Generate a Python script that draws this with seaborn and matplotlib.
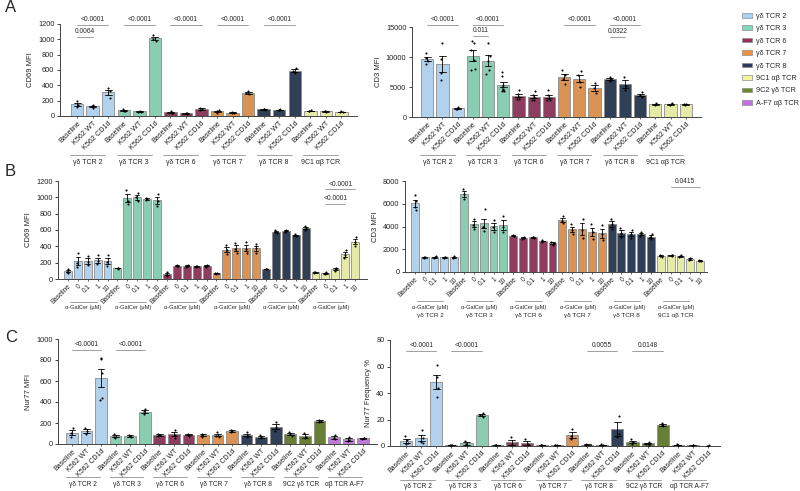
import numpy as np
import pandas as pd
import matplotlib
matplotlib.use("Agg")
import matplotlib.pyplot as plt
import matplotlib.transforms as mtransforms
from matplotlib.patches import Patch
import seaborn as sns

sns.set_theme(style="ticks")
plt.rcParams["font.family"] = ["Liberation Sans", "DejaVu Sans"]
plt.rcParams["axes.linewidth"] = 0.7
np.random.seed(0)

# ---- data (replicate values) ----
groups_a = ["γδ TCR 2", "γδ TCR 3", "γδ TCR 6", "γδ TCR 7", "γδ TCR 8", "9C1 αβ TCR"]
groups_c = ["γδ TCR 2", "γδ TCR 3", "γδ TCR 6", "γδ TCR 7", "γδ TCR 8", "9C2 γδ TCR", "αβ TCR A-F7"]
cond_k562 = ["Baseline", "K562 WT", "K562 CD1d"]
cond_galcer = ["Baseline", "0", "0.1", "1", "10"]

a_cd69 = [
    [190, 145, 120], [140, 125, 110], [360, 320, 240],
    [90, 70, 65], [70, 55, 55], [1050, 1010, 975],
    [60, 45, 35], [45, 35, 25], [105, 90, 75],
    [75, 60, 45], [50, 45, 40], [320, 300, 285],
    [90, 85, 80], [85, 78, 72], [620, 590, 565],
    [72, 65, 60], [65, 60, 56], [60, 56, 50],
]
a_cd3 = [
    [10600, 9800, 9300, 8900], [12300, 9700, 7400, 6200], [1600, 1400, 1300],
    [12700, 12300, 11200, 9500, 7800, 8000], [12400, 10200, 9300, 7800, 7200],
    [7500, 6800, 5400, 5000, 4700, 4500, 4400, 4400],
    [4500, 3900, 3400, 3000, 3000], [4300, 3700, 3300, 2900, 2800], [4500, 3600, 3200, 2900, 2800],
    [7800, 7000, 6300, 5500], [7700, 7000, 5900, 5000], [5700, 4800, 4000],
    [6600, 6300, 6000], [6700, 5200, 4500], [4100, 3600, 3300],
    [2300, 2100, 1950], [2300, 2100, 1950], [2250, 2100, 1950],
]
b_cd69 = [
    [120, 90, 75], [320, 200, 150], [280, 210, 170], [290, 220, 180], [290, 210, 160],
    [135, 130, 128], [1090, 960, 920], [1050, 1000, 950], [995, 980, 965], [1040, 960, 895],
    [85, 55, 40], [175, 165, 155], [170, 160, 150], [165, 155, 145], [170, 160, 150],
    [75, 70, 65], [420, 350, 310], [440, 370, 315], [450, 370, 320], [430, 380, 315],
    [125, 122, 119], [595, 580, 565], [605, 590, 578], [550, 537, 524], [650, 628, 606],
    [90, 82, 74], [80, 70, 60], [140, 120, 97], [360, 290, 256], [520, 450, 401],
]
b_cd3 = [
    [6800, 6200, 5700, 5460], [1350, 1300, 1250], [1400, 1280, 1220], [1350, 1300, 1250], [1380, 1300, 1220],
    [7300, 6900, 6400], [4700, 4100, 3800], [5500, 4000, 3600, 4000], [4600, 4000, 3500], [4900, 4000, 3500],
    [3250, 3190, 3130], [3100, 3020, 2940], [3120, 3050, 2980], [2780, 2720, 2660], [2650, 2520, 2390],
    [4900, 4500, 4300], [4200, 3700, 3350], [4700, 3650, 3000], [4200, 3500, 2900], [4100, 3300, 2800],
    [4700, 4200, 3760], [3900, 3400, 3050], [3700, 3300, 3020], [3550, 3300, 3170], [3300, 3100, 2900],
    [1500, 1430, 1360], [1520, 1460, 1400], [1480, 1400, 1320], [1250, 1140, 1030], [1050, 1000, 950],
]
c_nur77 = [
    [155, 105, 65], [155, 120, 95], [820, 805, 680, 440, 415],
    [100, 70, 60], [90, 75, 65], [330, 310, 285],
    [100, 85, 72], [135, 90, 60], [100, 90, 80],
    [100, 85, 70], [110, 80, 65], [135, 125, 112],
    [110, 80, 68], [85, 70, 55], [210, 160, 125],
    [115, 95, 75], [105, 70, 53], [230, 220, 207],
    [85, 60, 44], [70, 40, 25], [60, 54, 48],
]
c_freq = [
    [7.5, 4.5, 2, 1.2], [12, 6, 3, 2.2], [61, 52, 44, 37],
    [1, 0.8, 0.6], [4, 1.2, 0.8], [25, 23.2, 22],
    [0.9, 0.7, 0.5], [7, 0.8, 0.5], [5.5, 1.2, 0.8],
    [0.6, 0.5, 0.4], [0.9, 0.7, 0.5], [12.5, 7.5, 5],
    [1.5, 1, 0.5], [1.2, 0.8, 0.4], [23, 9, 6.5],
    [5, 2.8, 1.8], [2.8, 1.8, 1.1], [17, 15.8, 15],
    [1.2, 0.8, 0.4], [0.8, 0.5, 0.2], [0.4, 0.3, 0.2],
]

palette = {
    "γδ TCR 2": "#a8d2f6",
    "γδ TCR 3": "#7fd8b6",
    "γδ TCR 6": "#9d2f5c",
    "γδ TCR 7": "#f0913e",
    "γδ TCR 8": "#2a3d5c",
    "9C1 αβ TCR": "#eff59c",
    "9C2 γδ TCR": "#6a8b28",
    "αβ TCR A-F7": "#c56be3",
}
legend_names = ["γδ TCR 2", "γδ TCR 3", "γδ TCR 6", "γδ TCR 7", "γδ TCR 8",
                "9C1 αβ TCR", "9C2 γδ TCR", "A-F7 αβ TCR"]
legend_keys = ["γδ TCR 2", "γδ TCR 3", "γδ TCR 6", "γδ TCR 7", "γδ TCR 8",
               "9C1 αβ TCR", "9C2 γδ TCR", "αβ TCR A-F7"]

fig = plt.figure(figsize=(8, 4.91), dpi=100)
W, H = 800, 491


def px_axes(x0, x1, ytop, ybot):
    return fig.add_axes([x0 / W, (H - ybot) / H, (x1 - x0) / W, (ybot - ytop) / H])


def draw_panel(ax, values, groups, conds, xlim, ylim, yticks, ylabel, tick_fs):
    n = len(conds)
    rows = []
    for i, reps in enumerate(values):
        for v in reps:
            rows.append({"pos": i, "value": v, "group": groups[i // n]})
    df = pd.DataFrame(rows)
    sns.barplot(data=df, x="pos", y="value", hue="group", palette=palette, dodge=False,
                errorbar="se", capsize=0.45, width=0.8, edgecolor="#8c8c8c", linewidth=0.6,
                err_kws={"linewidth": 0.6, "color": "black"}, legend=False, ax=ax)
    sns.stripplot(data=df, x="pos", y="value", color="black", size=1.5, jitter=0.12, ax=ax)
    ax.set_xlim(*xlim)
    ax.set_ylim(*ylim)
    ax.set_yticks(yticks)
    ax.set_yticklabels([str(t) for t in yticks])
    ax.set_xticks(range(len(values)))
    ax.set_xticklabels(conds * len(groups), rotation=45, ha="right", rotation_mode="anchor",
                       fontsize=tick_fs)
    ax.set_xlabel("")
    ax.set_ylabel(ylabel, fontsize=5.5, labelpad=3)
    ax.tick_params(axis="y", labelsize=5.3, length=2.5, width=0.6, pad=1.5, colors="#222222")
    ax.tick_params(axis="x", length=1.5, width=0.5, pad=1.5, colors="#222222")
    for s in ["left", "bottom"]:
        ax.spines[s].set_color("#444444")
    sns.despine(ax=ax)


def under_labels(ax, names, n, start, stop, line_off, text_off, line=True, fs=5.0):
    tl = mtransforms.offset_copy(ax.get_xaxis_transform(), fig=fig, y=-line_off, units="dots")
    tt = mtransforms.offset_copy(ax.get_xaxis_transform(), fig=fig, y=-text_off, units="dots")
    for g, name in enumerate(names):
        x0, x1 = g * n + start, g * n + stop
        if line:
            ax.plot([x0, x1], [0, 0], transform=tl, color="#a0a0a0", lw=0.7, clip_on=False)
        ax.text((x0 + x1) / 2, 0, name, transform=tt, ha="center", va="center",
                fontsize=fs, clip_on=False)


def brackets(ax, items):
    for i0, i1, y, label in items:
        ax.plot([i0, i1], [y, y], color="#a0a0a0", lw=0.7, clip_on=False)
        ax.annotate(label, (0.5 * (i0 + i1), y), xytext=(0, 1.2), textcoords="offset points",
                    ha="center", va="bottom", fontsize=4.8, annotation_clip=False)


# ---- A ----
ax = px_axes(60, 357, 24, 116)
draw_panel(ax, a_cd69, groups_a, cond_k562, (-1.1, 18.0), (0, 1200), range(0, 1201, 200), "CD69 MFI", 5.2)
under_labels(ax, groups_a, 3, -0.45, 1.8, 39, 47)
brackets(ax, [(0, 2, 1185, "<0.0001"), (0, 1, 1030, "0.0064"), (3, 5, 1185, "<0.0001"),
              (6, 8, 1185, "<0.0001"), (9, 11, 1185, "<0.0001"), (12, 14, 1185, "<0.0001")])

ax = px_axes(412, 701, 27, 117)
draw_panel(ax, a_cd3, groups_a, cond_k562, (-1.0, 18.0), (0, 15000), [0, 5000, 10000, 15000], "CD3 MFI", 5.2)
under_labels(ax, groups_a, 3, -0.45, 1.8, 38, 46)
brackets(ax, [(0, 2, 15400, "<0.0001"), (3, 5, 15400, "<0.0001"), (3, 4, 13500, "0.011"),
              (9, 11, 15400, "<0.0001"), (12, 14, 15400, "<0.0001"), (12, 13, 13400, "0.0322")])

# ---- B ----
ax = px_axes(58, 367, 181, 279)
draw_panel(ax, b_cd69, groups_a, cond_galcer, (-1.0, 30.2), (0, 1200), range(0, 1201, 200), "CD69 MFI", 4.7)
under_labels(ax, ["α-GalCer (μM)"] * 6, 5, 0.2, 2.9, 23, 29, fs=4.1)
brackets(ax, [(26, 29, 1100, "<0.0001"), (26, 28, 918, "<0.0001")])

ax = px_axes(405, 707, 181, 272)
draw_panel(ax, b_cd3, groups_a, cond_galcer, (-1.0, 29.7), (0, 8000), range(0, 8001, 2000), "CD3 MFI", 4.7)
under_labels(ax, ["α-GalCer (μM)"] * 6, 5, 0.2, 2.9, 29, 35, fs=4.1)
under_labels(ax, groups_a, 5, 0.2, 2.9, 0, 44, line=False, fs=4.6)
brackets(ax, [(26, 29, 7500, "0.0415")])

# ---- C ----
ax = px_axes(58, 377, 339, 444)
draw_panel(ax, c_nur77, groups_c, cond_k562, (-0.96, 20.96), (0, 1000), range(0, 1001, 200), "Nur77 MFI", 5)
under_labels(ax, groups_c, 3, -0.4, 1.9, 33, 41, fs=4.8)
brackets(ax, [(0, 2, 900, "<0.0001"), (3, 5, 900, "<0.0001")])

ax = px_axes(390, 720, 340, 446)
draw_panel(ax, c_freq, groups_c, cond_k562, (-1.07, 20.8), (0, 80), range(0, 81, 20), "Nur77 Frequency %", 5)
under_labels(ax, groups_c, 3, -0.4, 1.9, 34, 41, fs=4.8)
brackets(ax, [(0, 2, 72, "<0.0001"), (3, 5, 72, "<0.0001"), (12, 14, 72, "0.0055"), (15, 17, 72, "0.0148")])

# ---- panel letters and legend ----
for letter, y in [("A", 8), ("B", 171), ("C", 337)]:
    fig.text(5 / W, 1 - y / H, letter, fontsize=12, ha="left", va="center")

handles = [Patch(facecolor=palette[k], edgecolor="#8c8c8c", linewidth=0.5) for k in legend_keys]
fig.legend(handles, legend_names, loc="upper left", bbox_to_anchor=(739 / W, 1 - 10 / H),
           frameon=False, fontsize=5.2, handlelength=1.4, handleheight=0.6,
           labelspacing=0.75, handletextpad=0.5, borderaxespad=0)

fig.savefig("out.png", dpi=100)
